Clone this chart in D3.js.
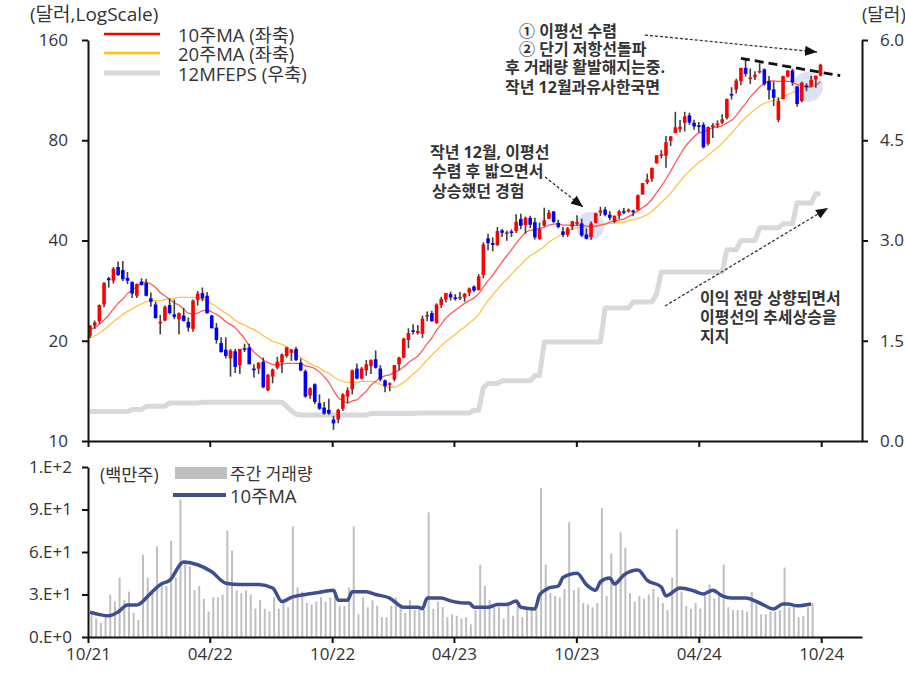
<!DOCTYPE html>
<html>
<head>
<meta charset="utf-8">
<script src="https://cdn.jsdelivr.net/npm/d3@7/dist/d3.min.js"></script>
<style>
body { margin: 0; background: #fff; }
text { font-family: 'Open Sans', 'Noto Sans CJK KR', sans-serif; fill: #333; }
</style>
</head>
<body>
<svg id="chart" width="905" height="673"></svg>
<script>
// weekly candles, first week plotted at 2021-10-04
const firstWeek = new Date(2021, 9, 4)

const open = [20.7,22.2,22.9,25.7,30.8,30.3,33.3,32.6,30.9,30.0,27.3,30.1,29.8,26.8,25.7,22.6,23.0,25.6,24.0,23.2,
  23.8,22.8,21.7,26.5,27.8,27.3,23.8,21.9,19.7,18.8,17.7,18.6,16.9,19.0,19.1,16.5,16.5,17.3,14.2,15.6,
  16.6,17.2,18.0,18.4,18.9,17.2,16.2,13.7,14.8,13.0,12.6,12.4,11.6,11.6,12.5,13.6,14.3,16.5,15.4,16.3,
  16.8,17.6,16.5,15.2,14.8,15.3,17.0,17.8,20.1,21.5,21.1,21.0,23.7,24.2,22.6,25.6,26.6,27.6,27.0,26.9,
  27.0,27.9,29.1,28.4,31.5,40.6,39.3,38.8,42.9,42.0,42.6,42.7,46.4,44.5,46.8,45.4,40.4,44.3,46.5,48.9,
  45.2,42.6,41.6,44.0,44.9,45.0,41.7,41.0,45.2,48.5,49.5,47.8,45.5,47.5,49.0,48.9,49.2,49.5,55.0,59.8,
  61.3,68.2,72.6,71.9,79.7,84.1,86.4,90.3,95.0,90.3,88.7,89.1,78.1,87.5,89.2,90.4,93.4,110.2,113.6,120.4,
  132.0,123.2,123.5,128.6,130.6,120.4,113.7,92.1,106.3,124.3,129.6,116.0,104.9,116.8,116.6,121.8,125.0]
const high = [22.3,23.0,25.7,30.0,31.1,33.3,34.6,34.7,32.2,30.2,29.7,30.8,30.7,27.9,26.2,23.9,25.5,26.8,26.6,24.3,
  25.1,23.5,26.6,28.2,28.9,28.0,23.9,22.6,20.5,20.5,18.9,18.9,18.9,19.6,19.6,17.0,17.2,17.8,15.9,16.5,
  17.9,18.3,19.2,18.9,19.2,17.7,16.4,14.5,14.9,13.8,13.1,13.4,11.9,12.5,13.9,14.5,16.4,17.1,16.7,17.5,
  17.6,18.7,16.9,15.3,15.0,16.9,17.9,20.4,21.8,22.4,22.3,23.8,24.5,24.6,25.9,27.1,27.8,28.1,27.6,28.0,
  27.8,28.9,29.3,31.7,39.5,41.9,40.9,43.9,43.3,42.8,43.2,48.0,48.1,47.2,47.5,46.8,45.3,50.2,49.4,49.0,
  46.2,43.9,43.9,45.8,47.6,46.5,43.5,45.6,48.5,50.5,50.5,49.0,47.5,49.4,50.1,49.9,49.5,55.0,59.5,63.5,
  66.2,72.1,74.7,82.4,82.3,97.4,92.0,97.4,96.8,92.2,90.7,90.6,88.0,90.0,91.8,95.8,106.5,115.5,122.4,132.0,
  140.8,131.4,128.9,136.2,131.4,124.7,120.2,107.7,125.0,130.0,131.3,116.2,119.9,118.6,124.9,125.0,135.8]
const low = [20.4,21.7,22.5,25.2,28.9,29.7,31.3,30.2,29.6,26.9,26.9,29.3,27.2,25.3,23.3,20.9,22.9,24.0,23.2,20.9,
  22.9,21.3,21.3,25.5,26.3,24.1,21.8,19.6,18.4,17.7,15.6,16.0,15.9,18.5,17.0,15.5,15.9,14.4,14.1,14.9,
  16.4,16.0,17.8,17.4,17.4,16.2,13.5,13.4,12.9,12.4,12.0,12.0,10.8,11.3,12.3,13.0,13.8,15.3,15.3,15.7,
  15.9,16.5,15.1,14.0,14.1,15.1,16.3,17.7,19.0,20.9,20.9,20.4,22.9,22.8,22.5,25.1,26.1,26.4,26.4,26.5,
  26.2,27.2,28.0,28.3,30.8,37.4,37.1,38.5,41.0,39.9,41.0,42.1,43.2,41.9,43.6,40.3,40.2,44.0,46.4,45.1,
  43.5,40.9,41.0,43.0,44.3,41.0,40.3,40.2,45.0,47.4,47.3,46.0,45.1,46.4,48.0,48.5,47.3,49.2,54.9,59.0,
  60.0,68.1,70.5,66.2,76.8,84.0,84.6,85.1,89.0,86.0,84.4,75.6,77.2,81.2,87.0,89.4,92.3,106.0,110.5,117.0,
  124.3,118.0,121.4,127.0,116.7,106.0,101.4,90.7,106.3,123.4,116.7,100.9,104.0,112.3,115.4,115.1,124.4]
const close = [22.2,22.7,25.6,29.8,30.4,32.9,31.5,30.6,30.3,27.7,29.6,29.4,27.3,26.2,23.4,22.8,25.3,24.2,23.6,24.2,
  22.9,21.9,26.4,27.7,26.8,24.2,21.8,20.1,18.5,18.0,18.7,16.7,18.9,18.8,17.0,16.3,17.2,14.5,15.8,16.4,
  17.3,18.2,19.1,18.8,17.5,16.3,13.6,14.4,13.1,12.5,12.1,12.1,11.3,12.4,13.8,14.2,16.3,15.4,16.5,17.0,
  17.5,16.6,15.3,14.6,14.9,16.9,17.8,20.3,21.1,21.3,21.4,23.3,23.9,22.9,25.7,26.7,27.8,27.0,26.8,27.1,
  27.7,28.7,28.3,31.2,38.9,39.3,38.8,42.7,42.2,42.3,42.5,45.5,44.3,46.8,44.6,40.9,43.3,46.0,48.5,45.5,
  43.9,41.6,43.5,45.7,45.4,41.4,40.5,45.0,48.3,49.2,47.8,46.8,47.5,48.9,48.8,49.5,49.1,54.7,59.5,61.0,
  66.1,72.1,72.6,78.9,82.2,87.5,87.9,94.3,90.4,88.0,88.1,76.2,87.7,88.8,89.8,92.5,106.5,109.6,120.9,131.9,
  126.6,123.5,125.8,129.2,117.9,113.1,107.3,105.0,124.6,129.4,119.4,102.8,119.1,116.0,121.4,124.9,134.8]

const ma10 = [21.6,21.9,22.4,23.1,23.9,24.9,25.9,26.7,27.7,28.4,29.1,29.8,30.0,29.6,28.9,27.9,27.3,26.6,26.0,25.6,
  24.9,24.2,24.1,24.2,24.6,24.7,24.4,24.0,23.5,22.8,22.4,21.9,21.1,20.3,19.3,18.5,18.0,17.5,17.2,17.0,
  16.9,17.0,17.1,17.1,17.1,17.1,16.8,16.7,16.5,16.1,15.6,15.0,14.2,13.5,13.2,13.0,13.2,13.3,13.7,14.1,
  14.7,15.1,15.5,15.7,15.8,16.1,16.3,16.7,17.2,17.6,18.0,18.7,19.6,20.4,21.5,22.4,23.4,24.1,24.7,25.3,
  25.9,26.4,26.9,27.7,29.0,30.3,31.4,33.0,34.5,36.0,37.5,39.2,40.8,42.3,42.9,43.1,43.5,43.8,44.5,44.8,
  44.9,44.5,44.5,44.4,44.4,44.5,44.2,44.1,44.1,44.5,44.8,45.4,45.8,46.1,46.4,47.2,48.1,49.1,50.2,51.4,
  53.2,55.7,58.2,61.2,64.6,68.4,72.3,76.2,79.3,82.0,84.2,84.6,86.1,87.1,87.9,88.4,90.2,91.8,94.8,99.2,
  103.1,107.8,111.6,115.6,118.4,120.5,120.6,120.1,120.5,120.2,119.5,117.5,116.8,115.5,115.8,117.0,119.7]
const ma20 = [20.4,20.7,21.1,21.6,22.2,22.8,23.4,24.0,24.5,24.9,25.4,25.8,26.2,26.3,26.4,26.4,26.6,26.7,26.8,27.0,
  27.0,27.0,27.0,26.9,26.7,26.3,25.8,25.3,24.7,24.2,23.7,23.0,22.6,22.3,21.9,21.6,21.2,20.7,20.3,19.9,
  19.7,19.5,19.1,18.7,18.2,17.8,17.4,17.1,16.8,16.6,16.2,16.0,15.6,15.3,15.1,15.0,15.0,15.0,15.1,15.1,
  15.1,15.0,14.8,14.6,14.5,14.5,14.7,15.0,15.4,15.9,16.3,16.9,17.5,18.1,18.7,19.3,19.9,20.4,20.9,21.5,
  22.0,22.6,23.2,24.0,25.2,26.4,27.4,28.5,29.6,30.6,31.7,32.8,33.8,35.0,36.0,36.7,37.5,38.4,39.5,40.4,
  41.2,41.9,42.6,43.3,43.7,43.8,43.9,44.0,44.3,44.6,44.9,45.0,45.1,45.2,45.4,45.9,46.2,46.6,47.1,47.9,
  49.0,50.5,52.0,53.7,55.5,57.8,60.2,62.6,64.7,66.7,68.7,70.2,72.2,74.2,76.2,78.4,81.2,84.0,87.1,90.6,
  93.6,96.2,98.9,101.4,103.2,104.4,105.4,105.9,107.7,109.7,111.3,112.6,114.2,115.6,117.1,118.8,120.2]

const eps = [0.44,0.44,0.44,0.44,0.44,0.44,0.44,0.44,0.44,0.47,0.47,0.47,0.52,0.52,0.52,0.52,0.52,0.57,0.57,0.57,
  0.57,0.57,0.57,0.57,0.58,0.58,0.58,0.58,0.58,0.58,0.58,0.58,0.58,0.58,0.58,0.58,0.58,0.58,0.58,0.58,
  0.58,0.58,0.52,0.45,0.40,0.39,0.39,0.39,0.39,0.39,0.39,0.39,0.39,0.39,0.39,0.39,0.39,0.39,0.39,0.39,
  0.41,0.41,0.41,0.41,0.41,0.41,0.41,0.41,0.41,0.41,0.42,0.42,0.42,0.42,0.42,0.42,0.42,0.42,0.42,0.42,
  0.42,0.42,0.46,0.46,0.80,0.86,0.86,0.86,0.90,0.90,0.90,0.90,0.90,0.90,0.90,0.98,0.98,1.48,1.48,1.48,
  1.48,1.48,1.48,1.48,1.48,1.48,1.48,1.48,1.48,1.48,1.99,1.99,1.99,1.99,1.99,1.99,2.08,2.08,2.08,2.08,
  2.08,2.20,2.53,2.53,2.53,2.53,2.53,2.53,2.53,2.53,2.53,2.53,2.53,2.53,2.53,2.53,2.86,2.86,2.86,3.00,
  3.00,3.00,3.00,3.19,3.19,3.19,3.19,3.19,3.25,3.25,3.25,3.56,3.56,3.56,3.56,3.70,3.70]

const volume = [17,13,10,14,30,25,42,26,32,17,12,58,42,32,64,38,36,68,42,97,
  52,50,33,36,27,18,28,28,30,75,61,33,31,33,30,20,26,20,18,28,
  20,26,21,78,35,32,24,23,25,28,25,28,30,22,22,35,78,16,28,21,
  26,22,14,14,22,28,21,17,26,19,19,19,88,20,25,21,14,16,15,13,
  14,9,19,51,36,26,21,21,13,22,15,22,14,19,19,19,105,51,31,29,
  28,34,81,33,35,24,23,21,24,91,29,59,40,74,63,31,25,29,27,30,
  34,28,24,19,42,76,32,22,20,24,20,30,37,27,30,51,21,19,19,19,
  18,32,23,16,16,18,18,19,49,21,22,14,15,21,24]

const volMaWeek = [1,5,7,9,11,14,16,18,21,24,27,30,33,37,40,42,44,47,49,53,54,56,57,60,62,65,68,71,72,73,
  76,78,81,82,83,86,88,90,92,93,96,97,99,101,102,105,107,109,110,112,113,115,118,120,123,124,127,130,132,134,
  136,138,141,144,147,149,150,152,155]
const volMaValue = [17.6,15.0,17.6,22.6,22.6,31,37,40,53,51,46,38,37,37,34.6,25,28,30,31,33,26,26,32,32,30,27.5,21,21,20,27.5,
  27.5,25.5,24,24,21,21,23,23,25.4,21,19.8,29.6,34.6,36,42,45,37,33,39,41.6,37.4,43.8,47.3,40,35.3,29,34.6,32.5,30.4,33,
  29,27.5,27.5,24,19.8,23.3,23.3,22,23.3]

const priceTicks = [10, 20, 40, 80, 160]
const epsTicks = [0, 1.5, 3, 4.5, 6]
const volTicks = [0, 30, 60, 90, 120]
const monthTicks = ['2021-10-01', '2022-04-01', '2022-10-01', '2023-04-01', '2023-10-01', '2024-04-01', '2024-10-01']
  .map(d => new Date(d + 'T00:00:00'))

const svg = d3.select('#chart')
svg.append('rect').attr('width', 905).attr('height', 673).attr('fill', '#fff')

const weekDate = i => new Date(firstWeek.getTime() + i * 7 * 864e5)

const x = d3.scaleTime()
    .domain([new Date(2021, 9, 1), new Date(2024, 11, 1)])
    .range([88, 862])
const yPrice = d3.scaleLog().domain([10, 160]).range([441, 40])
const yEps = d3.scaleLinear().domain([0, 6]).range([441, 40])
const yVol = d3.scaleLinear().domain([0, 120]).range([637, 467])

const xw = (d, i) => x(weekDate(i))

const styleAxis = g => {
    g.select('.domain').attr('stroke', '#111').attr('stroke-width', 2)
    g.selectAll('.tick line').attr('stroke', '#111').attr('stroke-width', 2)
    g.selectAll('.tick text')
        .style('font-size', '17px')
        .attr('fill', '#333')
}

// highlight circles (behind candles)
const highlights = [{i: 106.8, p: 44.2, r: 14}, {i: 153.3, p: 115.6, r: 15}]
svg.append('g').selectAll('circle')
    .data(highlights)
    .join('circle')
    .attr('cx', d => x(weekDate(d.i)))
    .attr('cy', d => yPrice(d.p))
    .attr('r', d => d.r)
    .attr('fill', '#dde2f7')

// EPS line
svg.append('path')
    .datum(eps)
    .attr('fill', 'none')
    .attr('stroke', '#d9d9d9')
    .attr('stroke-width', 5)
    .attr('stroke-linejoin', 'round')
    .attr('d', d3.line().x(xw).y(d => yEps(d)))

const priceLine = d3.line().x(xw).y(d => yPrice(d)).curve(d3.curveMonotoneX)

svg.append('path')
    .datum(ma20)
    .attr('fill', 'none')
    .attr('stroke', '#ffc34a')
    .attr('stroke-width', 1.3)
    .attr('d', priceLine)

svg.append('path')
    .datum(ma10)
    .attr('fill', 'none')
    .attr('stroke', '#ff5a5a')
    .attr('stroke-width', 1.3)
    .attr('d', priceLine)

// candles
const candles = close.map((c, i) => ({i, o: open[i], h: high[i], l: low[i], c}))

const candleG = svg.append('g')
    .selectAll('g')
    .data(candles)
    .join('g')

candleG.append('line')
    .attr('x1', d => x(weekDate(d.i)))
    .attr('x2', d => x(weekDate(d.i)))
    .attr('y1', d => yPrice(d.h))
    .attr('y2', d => yPrice(d.l))
    .attr('stroke', '#404040')
    .attr('stroke-width', 1.6)

candleG.append('rect')
    .attr('x', d => x(weekDate(d.i)) - 1.8)
    .attr('width', 3.6)
    .attr('y', d => yPrice(Math.max(d.o, d.c)))
    .attr('height', d => Math.max(1.6, Math.abs(yPrice(d.o) - yPrice(d.c))))
    .attr('fill', d => d.c >= d.o ? '#ff0000' : '#0000ff')

// resistance line
const resistance = [{i: 139, p: 141}, {i: 160.2, p: 125}]
svg.append('path')
    .datum(resistance)
    .attr('fill', 'none')
    .attr('stroke', '#111')
    .attr('stroke-width', 2.8)
    .attr('stroke-dasharray', '9,5')
    .attr('d', d3.line().x(d => x(weekDate(d.i))).y(d => yPrice(d.p)))

// axes, top panel
svg.append('g')
    .attr('transform', 'translate(88,0)')
    .call(d3.axisLeft(yPrice).tickValues(priceTicks).tickFormat(d3.format('d')).tickSize(6).tickSizeOuter(0).tickPadding(14))
    .call(styleAxis)

svg.append('g')
    .attr('transform', 'translate(862,0)')
    .call(d3.axisRight(yEps).tickValues(epsTicks).tickFormat(d3.format('.1f')).tickSize(6).tickSizeOuter(0).tickPadding(12))
    .call(styleAxis)

svg.append('g')
    .attr('transform', 'translate(0,441)')
    .call(d3.axisBottom(x).tickValues(monthTicks).tickFormat('').tickSize(6).tickSizeOuter(0))
    .call(styleAxis)

// volume panel
svg.append('g')
    .selectAll('rect')
    .data(volume)
    .join('rect')
    .attr('x', (d, i) => xw(d, i) + 0.5)
    .attr('width', 2)
    .attr('y', d => yVol(d))
    .attr('height', d => yVol(0) - yVol(d))
    .attr('fill', '#bfbfbf')

svg.append('path')
    .datum(volMaWeek.map((w, j) => ({w, v: volMaValue[j]})))
    .attr('fill', 'none')
    .attr('stroke', '#3f4e8e')
    .attr('stroke-width', 3.5)
    .attr('stroke-linejoin', 'round')
    .attr('d', d3.line().x(d => x(weekDate(d.w - 1))).y(d => yVol(d.v)).curve(d3.curveMonotoneX))

svg.append('g')
    .attr('transform', 'translate(88,0)')
    .call(d3.axisLeft(yVol).tickValues(volTicks)
        .tickFormat(v => d3.format('.0e')(v).replace('e', '.E'))
        .tickSize(6).tickSizeOuter(0).tickPadding(10))
    .call(styleAxis)

svg.append('g')
    .attr('transform', 'translate(0,637)')
    .call(d3.axisBottom(x).tickValues(monthTicks).tickFormat(d3.timeFormat('%m/%y')).tickSize(6).tickSizeOuter(0).tickPadding(5))
    .call(styleAxis)

// titles and legends
const label = (t, lx, ly, size = 17, weight = 400) =>
    svg.append('text')
        .attr('x', lx).attr('y', ly)
        .attr('dominant-baseline', 'central')
        .style('font-size', size + 'px')
        .style('font-weight', weight)
        .text(t)

label('(달러,LogScale)', 30, 14, 19)
label('(달러)', 862, 14, 18)

const topLegend = [
    {t: '10주MA (좌축)', color: '#ff0000', w: 2.6, y: 34},
    {t: '20주MA (좌축)', color: '#ffc000', w: 2.6, y: 53},
    {t: '12MFEPS (우축)', color: '#d9d9d9', w: 5, y: 73}
]
topLegend.forEach(d => {
    svg.append('line')
        .attr('x1', 104).attr('x2', 160).attr('y1', d.y).attr('y2', d.y)
        .attr('stroke', d.color).attr('stroke-width', d.w)
    label(d.t, 178, d.y, 18.5)
})

label('(백만주)', 100, 474, 17.5)
svg.append('rect').attr('x', 175).attr('y', 467).attr('width', 52).attr('height', 12).attr('fill', '#bfbfbf')
label('주간 거래량', 230, 473, 17)
svg.append('line')
    .attr('x1', 173).attr('x2', 226).attr('y1', 495).attr('y2', 495)
    .attr('stroke', '#3f4e8e').attr('stroke-width', 4)
label('10주MA', 230, 495, 18.5)

// annotations
const notes = [
    {t: '① 이평선 수렴', x: 519, y: 31},
    {t: '② 단기 저항선돌파', x: 519, y: 49},
    {t: '후 거래량 활발해지는중.', x: 505, y: 67},
    {t: '작년 12월과유사한국면', x: 505, y: 87},
    {t: '작년 12월, 이평선', x: 430, y: 152},
    {t: '수렴 후 밟으면서', x: 432, y: 171},
    {t: '상승했던 경험', x: 432, y: 191},
    {t: '이익 전망 상향되면서', x: 700, y: 298},
    {t: '이평선의 추세상승을', x: 700, y: 317},
    {t: '지지', x: 700, y: 336}
]
notes.forEach(d => label(d.t, d.x, d.y, 16, 700))

svg.append('defs').append('marker')
    .attr('id', 'head')
    .attr('markerUnits', 'userSpaceOnUse')
    .attr('viewBox', '0 0 12 10')
    .attr('refX', 12).attr('refY', 5)
    .attr('markerWidth', 12).attr('markerHeight', 10)
    .attr('orient', 'auto')
    .append('path')
    .attr('d', 'M0,0L12,5L0,10Z')
    .attr('fill', '#111')

const arrows = [
    [[645, 35], [817, 52]],
    [[545, 177], [583, 207]],
    [[665, 306], [828, 208]]
]
svg.append('g')
    .selectAll('path')
    .data(arrows)
    .join('path')
    .attr('d', d3.line())
    .attr('fill', 'none')
    .attr('stroke', '#333')
    .attr('stroke-width', 1.3)
    .attr('stroke-dasharray', '3,2')
    .attr('marker-end', 'url(#head)')
</script>
</body>
</html>
